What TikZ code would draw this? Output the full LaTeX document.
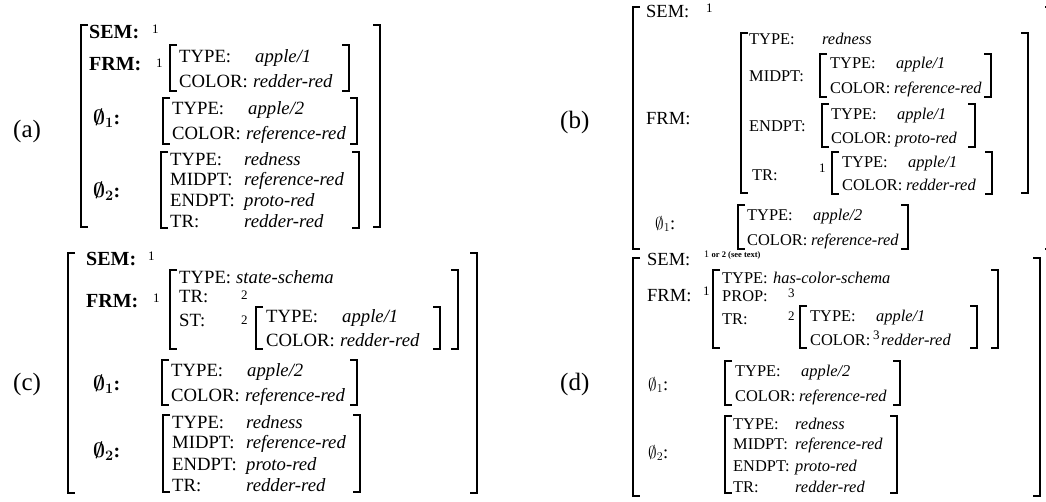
\documentclass[tikz,border=0pt]{standalone}
\usepackage{fontspec}
\setmainfont{Liberation Serif}
\usetikzlibrary{positioning}

% left and right bracket of one matrix: [style]{x left}{x right}{y top}{y bottom}
\newcommand{\avmbrk}[5][brk]{%
  \draw[#1] (#2,#4) ++(7,0) -- ++(-7,0) -- (#2,#5) -- ++(7,0);
  \draw[#1] (#3,#4) ++(-7,0) -- ++(7,0) -- (#3,#5) -- ++(-7,0);}

\begin{document}
\begin{tikzpicture}[
    x=1pt, y=-1pt,
    lbl/.style={anchor=base west, inner sep=0pt},
    val/.style={lbl, execute at begin node=\itshape},
    bf/.style={lbl, execute at begin node=\fontsize{20}{22}\selectfont\bfseries\boldmath},
    key/.style={lbl, execute at begin node=\fontsize{18.5}{21}\selectfont},
    idx/.style={anchor=base west, inner sep=0pt, font=\fontsize{13}{13}\selectfont},
    tag/.style={anchor=base west, inner sep=0pt, font=\fontsize{25}{27}\selectfont},
    brk/.style={line width=1.3pt},
    obrk/.style={line width=1.7pt}
]
\useasboundingbox (0,0) rectangle (1046,501);

% (a)
\begin{scope}[font=\fontsize{18.7}{21}\selectfont]
  \node[tag] (a-tag) at (13,137) {(a)};
  \avmbrk[obrk]{81}{380}{25}{227}
  \node[bf] (a-sem) at (89,38) {SEM:};
  \node[idx] (a-sem-i) at (152,33) {1};
  \node[bf] (a-frm) at (89,70) {FRM:};
  \node[idx] (a-frm-i) at (156,67) {1};
  \avmbrk{170}{349}{45}{91}
  \node[lbl] (a-f-t) at (179,62) {TYPE:};
  \node[val] (a-f-tv) at (255,62) {apple/1};
  \node[lbl] (a-f-c) at (179,87) {COLOR:};
  \node[val] (a-f-cv) at (253,87) {redder-red};
  \node[bf] (a-p1) at (93,124) {$\emptyset_1$:};
  \avmbrk{163}{357}{98}{144}
  \node[lbl] (a-p1-t) at (172,114) {TYPE:};
  \node[val] (a-p1-tv) at (248,114) {apple/2};
  \node[lbl] (a-p1-c) at (172,139) {COLOR:};
  \node[val] (a-p1-cv) at (246,139) {reference-red};
  \node[bf] (a-p2) at (93,197) {$\emptyset_2$:};
  \avmbrk{161}{359}{152}{228}
  \node[lbl] (a-p2-t) at (170,165) {TYPE:};
  \node[val] (a-p2-tv) at (244,165) {redness};
  \node[lbl] (a-p2-m) at (170,185) {MIDPT:};
  \node[val] (a-p2-mv) at (244,185) {reference-red};
  \node[lbl] (a-p2-e) at (170,206) {ENDPT:};
  \node[val] (a-p2-ev) at (244,206) {proto-red};
  \node[lbl] (a-p2-r) at (170,227) {TR:};
  \node[val] (a-p2-rv) at (244,227) {redder-red};
\end{scope}

% (b)
\begin{scope}[font=\fontsize{16.4}{19}\selectfont]
  \node[tag] (b-tag) at (560,128) {(b)};
  \avmbrk[obrk]{633}{1052}{7}{249}
  \node[key] (b-sem) at (646,17) {SEM:};
  \node[idx] (b-sem-i) at (706,12) {1};
  \node[key] (b-frm) at (646,124) {FRM:};
  \avmbrk{741}{1028}{33}{193}
  \node[lbl] (b-f-t) at (749,44) {TYPE:};
  \node[val] (b-f-tv) at (822,44) {redness};
  \node[lbl] (b-mid) at (749,81) {MIDPT:};
  \avmbrk{820}{991}{54}{97}
  \node[lbl] (b-m-t) at (830,68) {TYPE:};
  \node[val] (b-m-tv) at (896,68) {apple/1};
  \node[lbl] (b-m-c) at (830,93) {COLOR:};
  \node[val] (b-m-cv) at (894,93) {reference-red};
  \node[lbl] (b-end) at (749,131) {ENDPT:};
  \avmbrk{822}{975}{104}{147}
  \node[lbl] (b-e-t) at (831,119) {TYPE:};
  \node[val] (b-e-tv) at (897,119) {apple/1};
  \node[lbl] (b-e-c) at (831,143) {COLOR:};
  \node[val] (b-e-cv) at (895,143) {proto-red};
  \node[lbl] (b-tr) at (752,180) {TR:};
  \node[idx] (b-tr-i) at (819,172) {1};
  \avmbrk{832}{992}{152}{194}
  \node[lbl] (b-r-t) at (842,167) {TYPE:};
  \node[val] (b-r-tv) at (908,167) {apple/1};
  \node[lbl] (b-r-c) at (842,190) {COLOR:};
  \node[val] (b-r-cv) at (906,190) {redder-red};
  \node[key] (b-p1) at (655,229) {$\emptyset_1$:};
  \avmbrk{738}{908}{205}{249}
  \node[lbl] (b-p1-t) at (747,220) {TYPE:};
  \node[val] (b-p1-tv) at (813,220) {apple/2};
  \node[lbl] (b-p1-c) at (747,245) {COLOR:};
  \node[val] (b-p1-cv) at (811,245) {reference-red};
\end{scope}

% (c)
\begin{scope}[font=\fontsize{18.7}{21}\selectfont]
  \node[tag] (c-tag) at (13,390) {(c)};
  \avmbrk[obrk]{68}{477}{253}{493}
  \node[bf] (c-sem) at (86,265) {SEM:};
  \node[idx] (c-sem-i) at (148,260) {1};
  \node[bf] (c-frm) at (86,307) {FRM:};
  \node[idx] (c-frm-i) at (153,302) {1};
  \avmbrk{170}{458}{270}{349}
  \node[lbl] (c-f-t) at (179,283) {TYPE:};
  \node[val] (c-f-tv) at (236,283) {state-schema};
  \node[lbl] (c-f-r) at (179,302) {TR:};
  \node[idx] (c-f-ri) at (241,299) {2};
  \node[lbl] (c-f-s) at (179,326) {ST:};
  \node[idx] (c-f-si) at (241,324) {2};
  \avmbrk{256}{440}{307}{349}
  \node[lbl] (c-s-t) at (266,322) {TYPE:};
  \node[val] (c-s-tv) at (342,322) {apple/1};
  \node[lbl] (c-s-c) at (266,346) {COLOR:};
  \node[val] (c-s-cv) at (340,346) {redder-red};
  \node[bf] (c-p1) at (93,390) {$\emptyset_1$:};
  \avmbrk{162}{357}{360}{405}
  \node[lbl] (c-p1-t) at (171,376) {TYPE:};
  \node[val] (c-p1-tv) at (247,376) {apple/2};
  \node[lbl] (c-p1-c) at (171,401) {COLOR:};
  \node[val] (c-p1-cv) at (245,401) {reference-red};
  \node[bf] (c-p2) at (93,457) {$\emptyset_2$:};
  \avmbrk{163}{360}{415}{492}
  \node[lbl] (c-p2-t) at (172,428) {TYPE:};
  \node[val] (c-p2-tv) at (246,428) {redness};
  \node[lbl] (c-p2-m) at (172,448) {MIDPT:};
  \node[val] (c-p2-mv) at (246,448) {reference-red};
  \node[lbl] (c-p2-e) at (172,470) {ENDPT:};
  \node[val] (c-p2-ev) at (246,470) {proto-red};
  \node[lbl] (c-p2-r) at (172,491) {TR:};
  \node[val] (c-p2-rv) at (246,491) {redder-red};
\end{scope}

% (d)
\begin{scope}[font=\fontsize{16.4}{19}\selectfont]
  \node[tag] (d-tag) at (560,390) {(d)};
  \avmbrk[obrk]{633}{1040}{258}{496}
  \node[key] (d-sem) at (647,265) {SEM:};
  \node[anchor=base west, inner sep=0pt] (d-sem-i) at (704,257)
    {\fontsize{10}{10}\selectfont 1 \fontsize{8.5}{9}\selectfont\bfseries or 2 (see text)};
  \node[key] (d-frm) at (647,301) {FRM:};
  \node[idx] (d-frm-i) at (703,295) {1};
  \avmbrk{713}{998}{270}{348}
  \node[lbl] (d-f-t) at (722,283) {TYPE:};
  \node[val] (d-f-tv) at (773,283) {has-color-schema};
  \node[lbl] (d-f-p) at (722,301) {PROP:};
  \node[idx] (d-f-pi) at (788,297) {3};
  \node[lbl] (d-f-r) at (722,324) {TR:};
  \node[idx] (d-f-ri) at (788,320) {2};
  \avmbrk{800}{977}{306}{348}
  \node[lbl] (d-r-t) at (810,321) {TYPE:};
  \node[val] (d-r-tv) at (876,321) {apple/1};
  \node[lbl] (d-r-c) at (810,345) {COLOR:};
  \node[idx] (d-r-ci) at (873,339) {3};
  \node[val] (d-r-cv) at (881,345) {redder-red};
  \node[key] (d-p1) at (648,390) {$\emptyset_1$:};
  \avmbrk{725}{900}{361}{405}
  \node[lbl] (d-p1-t) at (735,376) {TYPE:};
  \node[val] (d-p1-tv) at (801,376) {apple/2};
  \node[lbl] (d-p1-c) at (735,401) {COLOR:};
  \node[val] (d-p1-cv) at (799,401) {reference-red};
  \node[key] (d-p2) at (648,458) {$\emptyset_2$:};
  \avmbrk{725}{897}{416}{493}
  \node[lbl] (d-p2-t) at (733,429) {TYPE:};
  \node[val] (d-p2-tv) at (795,429) {redness};
  \node[lbl] (d-p2-m) at (733,449) {MIDPT:};
  \node[val] (d-p2-mv) at (795,449) {reference-red};
  \node[lbl] (d-p2-e) at (733,471) {ENDPT:};
  \node[val] (d-p2-ev) at (795,471) {proto-red};
  \node[lbl] (d-p2-r) at (733,492) {TR:};
  \node[val] (d-p2-rv) at (795,492) {redder-red};
\end{scope}
\end{tikzpicture}
\end{document}
